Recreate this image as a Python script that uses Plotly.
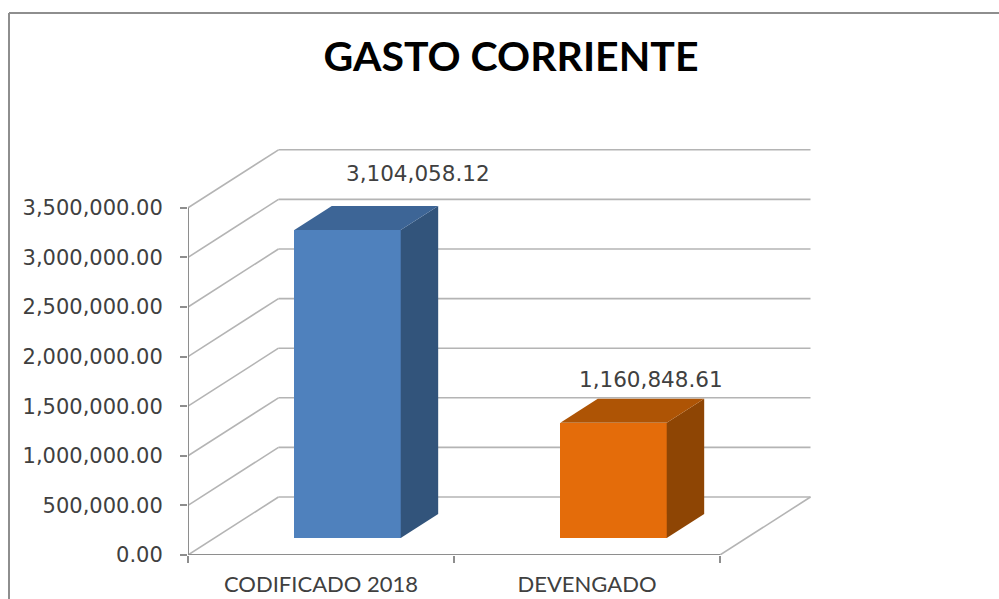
import plotly.graph_objects as go

# ---- data ----
categories = ["CODIFICADO 2018", "DEVENGADO"]
values = [3104058.12, 1160848.61]
value_labels = ["3,104,058.12", "1,160,848.61"]
y_ticks = [0, 500000, 1000000, 1500000, 2000000, 2500000, 3000000, 3500000]
y_tick_labels = ["0.00", "500,000.00", "1,000,000.00", "1,500,000.00",
                 "2,000,000.00", "2,500,000.00", "3,000,000.00", "3,500,000.00"]
front_colors = ["#4F81BD", "#E46C0A"]
top_colors = ["#3D6596", "#AE5405"]
side_colors = ["#32547B", "#8E4504"]

# ---- layout constants ----
W, H = 999, 599
L, R, T, B = 188, 814, 146, 555      # plot rectangle in pixels
CAT_PX = 266.0                       # pixels per category
VAL_PX = 49.6 / 500000.0             # pixels per unit of value
DX = 90.5 / CAT_PX                   # floor depth along x (category units)
DY = 58.0 / VAL_PX                   # floor depth along y (value units)
BAR_W = 0.40
BAR_D0, BAR_D1 = 0.293, 0.707        # front / back of bar, fraction of depth
GRID = "#B4B4B4"
AXIS = "#8E8E8E"
TEXT = "#404040"
NUM_FONT = "DejaVu Sans"
CAT_FONT = "Lato"
n = len(categories)


def proj(x, v, d):
    return x + d * DX, v + d * DY


fig = go.Figure()
shapes = [dict(type="line", xref="paper", yref="paper",
               x0=(9 - L) / (R - L), x1=(W - L) / (R - L),
               y0=(B - 13) / (B - T), y1=(B - 13) / (B - T),
               line=dict(color=AXIS, width=2)),
          dict(type="line", xref="paper", yref="paper",
               x0=(9 - L) / (R - L), x1=(9 - L) / (R - L),
               y0=(B - 13) / (B - T), y1=(B - H) / (B - T),
               line=dict(color=AXIS, width=2))]


def grid_seg(p, q):
    # drawn below the traces so that the bars hide the walls
    shapes.append(dict(type="line", xref="x", yref="y", layer="below",
                       x0=p[0], y0=p[1], x1=q[0], y1=q[1],
                       line=dict(color=GRID, width=1.6)))


def line(xs, ys, color=AXIS, width=2):
    fig.add_trace(go.Scatter(x=xs, y=ys, mode="lines", cliponaxis=False,
                             line=dict(color=color, width=width),
                             hoverinfo="skip", showlegend=False))


# walls: left wall diagonals and back wall lines
for v in y_ticks:
    grid_seg(proj(0, v, 0), proj(0, v, 1))
    grid_seg(proj(0, v, 1), proj(n, v, 1))
# floor right edge
grid_seg(proj(n, 0, 0), proj(n, 0, 1))
# front axes
line([0, 0], [0, y_ticks[-1]])
line([0, n], [0, 0])

# bars: side and top faces
for i, val in enumerate(values):
    left = i + 0.5 - BAR_W / 2
    right = i + 0.5 + BAR_W / 2
    pts = [proj(right, 0, BAR_D0), proj(right, 0, BAR_D1),
           proj(right, val, BAR_D1), proj(right, val, BAR_D0)]
    fig.add_trace(go.Scatter(x=[p[0] for p in pts] + [pts[0][0]],
                             y=[p[1] for p in pts] + [pts[0][1]],
                             fill="toself", fillcolor=side_colors[i], mode="lines",
                             line=dict(width=0, color=side_colors[i]),
                             hoverinfo="skip", showlegend=False))
    pts = [proj(left, val, BAR_D0), proj(right, val, BAR_D0),
           proj(right, val, BAR_D1), proj(left, val, BAR_D1)]
    fig.add_trace(go.Scatter(x=[p[0] for p in pts] + [pts[0][0]],
                             y=[p[1] for p in pts] + [pts[0][1]],
                             fill="toself", fillcolor=top_colors[i], mode="lines",
                             line=dict(width=0, color=top_colors[i]),
                             hoverinfo="skip", showlegend=False))

# bars: front faces
fig.add_trace(go.Bar(
    x=[i + 0.5 + BAR_D0 * DX for i in range(n)],
    y=values,
    base=[BAR_D0 * DY] * n,
    width=BAR_W,
    marker=dict(color=front_colors, line=dict(width=0)),
    hoverinfo="skip", showlegend=False))

# value labels, anchored on the back top of each bar
label_shift = [(33, 33), (0, 19)]
annotations = []
for i, val in enumerate(values):
    ax, ay = proj(i + 0.5, val, BAR_D1)
    annotations.append(dict(x=ax, y=ay, xref="x", yref="y", text=value_labels[i],
                            showarrow=False, xanchor="center", yanchor="middle",
                            xshift=label_shift[i][0], yshift=label_shift[i][1],
                            font=dict(family=NUM_FONT, size=21.5, color=TEXT)))

fig.update_layout(
    width=W, height=H,
    margin=dict(l=L, r=W - R, t=T, b=H - B, pad=0),
    autosize=False,
    paper_bgcolor="white", plot_bgcolor="white",
    showlegend=False,
    bargap=0,
    title=dict(text="<b>GASTO CORRIENTE</b>", x=511 / W, xanchor="center",
               y=1 - 57 / H, yanchor="middle",
               font=dict(family=CAT_FONT, size=41, color="black")),
    annotations=annotations,
    shapes=shapes,
    xaxis=dict(range=[0, (R - L) / CAT_PX], showgrid=False, zeroline=False,
               showline=False, tickmode="array", automargin=False,
               tickvals=[i + 0.5 for i in range(n)], ticktext=categories,
               ticks="", ticklabelstandoff=14,
               tickfont=dict(family=CAT_FONT, size=22, color=TEXT),
               minor=dict(tickmode="array", tickvals=list(range(n + 1)),
                          ticks="outside", ticklen=7, tickwidth=2, tickcolor=AXIS,
                          showgrid=False)),
    yaxis=dict(range=[0, (B - T) / VAL_PX], showgrid=False, zeroline=False,
               showline=False, tickmode="array", tickvals=y_ticks, automargin=False,
               ticktext=y_tick_labels, ticks="outside", ticklen=7, tickwidth=2,
               tickcolor=AXIS, ticklabelstandoff=13,
               tickfont=dict(family=NUM_FONT, size=21, color=TEXT)),
)

fig.write_html("out.html", config={"displayModeBar": False},
               post_script="document.body.style.margin='0';document.body.style.overflow='hidden';")
